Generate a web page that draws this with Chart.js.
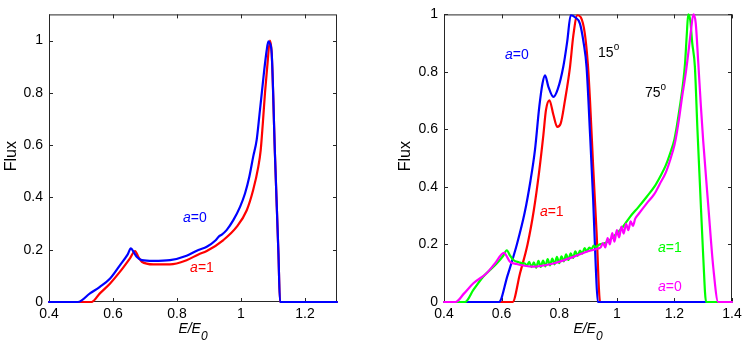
<!DOCTYPE html>
<html><head><meta charset="utf-8">
<script src="https://cdn.jsdelivr.net/npm/chart.js@4/dist/chart.umd.min.js"></script>
<style>
html,body{margin:0;padding:0;background:#fff;}
#wrap{position:relative;width:747px;height:350px;overflow:hidden;}
canvas{position:absolute;top:0;}
</style></head><body>
<div id="wrap">
<canvas id="c1" width="370" height="350" style="left:0px"></canvas>
<canvas id="c2" width="377" height="350" style="left:370px"></canvas>
</div>
<script>
// ---------- tick labels ----------
const leftXTicks = [0.4, 0.6, 0.8, 1.0, 1.2];
const leftYTicks = [0, 0.2, 0.4, 0.6, 0.8, 1.0];
const rightXTicks = [0.4, 0.6, 0.8, 1.0, 1.2, 1.4];
const rightYTicks = [0, 0.2, 0.4, 0.6, 0.8, 1.0];

// ---------- left panel: a=0 (blue), a=1 (red) ----------
const leftA0X = [0.4, 0.49, 0.528, 0.559, 0.591, 0.622, 0.645, 0.656, 0.665, 0.674, 0.69, 0.726, 0.778, 0.83, 0.867, 0.893, 0.92, 0.932, 0.94, 0.955, 0.976, 0.997, 1.0125, 1.026, 1.038, 1.049, 1.058, 1.065, 1.072, 1.08, 1.0855, 1.09, 1.096, 1.106, 1.117, 1.122, 1.3];
const leftA0Y = [0, 0, 0.033, 0.058, 0.09, 0.141, 0.18, 0.205, 0.19, 0.173, 0.16, 0.157, 0.16, 0.177, 0.199, 0.211, 0.235, 0.252, 0.258, 0.275, 0.313, 0.364, 0.415, 0.479, 0.555, 0.62, 0.72, 0.8, 0.88, 0.96, 0.997, 0.99, 0.95, 0.568, 0.186, 0, 0];
const leftA1X = [0.4, 0.533, 0.559, 0.591, 0.622, 0.653, 0.669, 0.679, 0.69, 0.726, 0.778, 0.83, 0.867, 0.893, 0.945, 0.987, 1.018, 1.038, 1.054, 1.0615, 1.068, 1.075, 1.082, 1.0906, 1.096, 1.106, 1.117, 1.122, 1.3];
const leftA1Y = [0, 0, 0.033, 0.071, 0.116, 0.167, 0.195, 0.173, 0.154, 0.144, 0.144, 0.16, 0.182, 0.195, 0.237, 0.288, 0.351, 0.428, 0.517, 0.58, 0.68, 0.8, 0.9, 1.0, 0.95, 0.568, 0.186, 0, 0];

// ---------- right panel: 15 deg a=0 (blue), a=1 (red) ----------
const r15A0X = [0.4, 0.591, 0.62, 0.653, 0.68, 0.70, 0.716, 0.731, 0.742, 0.751, 0.762, 0.78, 0.795, 0.814, 0.828, 0.84, 0.855, 0.872, 0.885, 0.895, 0.907, 0.918, 0.927, 0.934, 1.4];
const r15A0Y = [0, 0, 0.09, 0.2, 0.31, 0.42, 0.53, 0.68, 0.76, 0.788, 0.75, 0.713, 0.74, 0.817, 0.907, 0.997, 0.99, 0.968, 0.9, 0.817, 0.586, 0.354, 0.123, 0, 0];
const r15A1X = [0.4, 0.638, 0.664, 0.69, 0.712, 0.73, 0.745, 0.754, 0.766, 0.78, 0.793, 0.805, 0.82, 0.8375, 0.849, 0.863, 0.875, 0.889, 0.9, 0.907, 0.918, 0.93, 0.942, 1.4];
const r15A1Y = [0, 0, 0.1, 0.2, 0.32, 0.45, 0.58, 0.667, 0.701, 0.65, 0.609, 0.62, 0.701, 0.817, 0.926, 0.997, 0.99, 0.933, 0.82, 0.7, 0.47, 0.238, 0, 0];

// ---------- right panel: 75 deg a=1 (green), a=0 (magenta) ----------
const r75A1X = [0.4, 0.473, 0.502, 0.536, 0.583, 0.605, 0.618, 0.63, 0.641, 0.66, 0.675,
  0.68, 0.688, 0.696, 0.704, 0.712, 0.72, 0.728, 0.736, 0.744, 0.752, 0.76, 0.768, 0.776, 0.784, 0.792, 0.80, 0.808, 0.816, 0.824, 0.832, 0.84, 0.848, 0.856, 0.864, 0.872, 0.88, 0.888, 0.896, 0.904, 0.912, 0.92, 0.928, 0.936,
  0.96, 0.988, 1.02, 1.046, 1.075, 1.104, 1.13, 1.15, 1.17, 1.185, 1.2, 1.208, 1.219, 1.23, 1.237, 1.243, 1.248, 1.255, 1.262, 1.271, 1.28, 1.289, 1.30, 1.31, 1.4];
const r75A1Y = [0, 0, 0.042, 0.088, 0.134, 0.16, 0.18, 0.16, 0.146, 0.138, 0.134,
  0.134, 0.126, 0.140, 0.121, 0.138, 0.119, 0.143, 0.122, 0.144, 0.124, 0.149, 0.127, 0.151, 0.131, 0.157, 0.135, 0.159, 0.141, 0.166, 0.146, 0.169, 0.153, 0.176, 0.160, 0.179, 0.168, 0.187, 0.176, 0.189, 0.184, 0.196, 0.190, 0.198,
  0.205, 0.227, 0.26, 0.296, 0.33, 0.366, 0.40, 0.435, 0.475, 0.516, 0.565, 0.609, 0.68, 0.76, 0.83, 0.93, 1.0, 0.98, 0.9, 0.82, 0.6, 0.4, 0.16, 0, 0];
const r75A0X = [0.4, 0.44, 0.47, 0.502, 0.548, 0.577, 0.608, 0.629, 0.652, 0.68, 0.71, 0.74, 0.78, 0.81, 0.849, 0.895, 0.935,
  0.944, 0.952, 0.96, 0.968, 0.976, 0.984, 0.992, 1.0, 1.008, 1.016, 1.024, 1.032, 1.04, 1.048, 1.056, 1.064,
  1.075, 1.104, 1.13, 1.15, 1.17, 1.185, 1.2, 1.208, 1.218, 1.225, 1.24, 1.25, 1.257, 1.266, 1.274, 1.283, 1.292, 1.30, 1.318, 1.335, 1.352, 1.4];
const r75A0Y = [0, 0, 0.03, 0.065, 0.10, 0.134, 0.171, 0.14, 0.132, 0.126, 0.123, 0.126, 0.134, 0.143, 0.157, 0.175, 0.186,
  0.19, 0.205, 0.19, 0.222, 0.20, 0.24, 0.21, 0.25, 0.225, 0.262, 0.238, 0.272, 0.25, 0.28, 0.265, 0.29,
  0.305, 0.343, 0.375, 0.412, 0.45, 0.493, 0.545, 0.586, 0.65, 0.701, 0.8, 0.88, 0.94, 1.0, 0.97, 0.83, 0.68, 0.56, 0.33, 0.12, 0, 0];

const pts = (xs, ys) => xs.map((x, i) => ({x: x, y: ys[i]}));

const FONT = "'Liberation Sans', Arial, Helvetica, sans-serif";
const FRAME = '#262626';

const deco = {
  id: 'deco',
  beforeDatasetsDraw(chart, args, o) {
    const {ctx, chartArea: a, scales: {x, y}} = chart;
    ctx.save();
    ctx.strokeStyle = FRAME;
    ctx.lineWidth = 1;
    ctx.strokeRect(a.left + 0.5, a.top + 0.5, a.right - a.left - 1, a.bottom - a.top - 1);
    const tl = 4;
    ctx.beginPath();
    o.xTicks.forEach(v => {
      const px = Math.round(x.getPixelForValue(v)) + 0.5;
      ctx.moveTo(px, a.bottom); ctx.lineTo(px, a.bottom - tl);
      ctx.moveTo(px, a.top); ctx.lineTo(px, a.top + tl);
    });
    o.yTicks.forEach(v => {
      const py = Math.round(y.getPixelForValue(v)) + 0.5;
      ctx.moveTo(a.left, py); ctx.lineTo(a.left + tl, py);
      ctx.moveTo(a.right, py); ctx.lineTo(a.right - tl, py);
    });
    ctx.stroke();
    ctx.restore();
  },
  afterDraw(chart, args, o) {
    const {ctx, chartArea: a, scales: {x, y}} = chart;
    ctx.save();
    ctx.fillStyle = '#000';
    ctx.font = '16px ' + FONT;
    ctx.textAlign = 'center';
    ctx.textBaseline = 'middle';
    ctx.save();
    ctx.translate(o.yTitleX, (a.top + a.bottom) / 2 - 2);
    ctx.rotate(-Math.PI / 2);
    ctx.fillText('Flux', 0, 0);
    ctx.restore();
    ctx.textAlign = 'left';
    ctx.font = 'italic 14px ' + FONT;
    const main = 'E/E';
    const wMain = ctx.measureText(main).width;
    ctx.font = 'italic 12px ' + FONT;
    const wSub = ctx.measureText('0').width;
    const cx = (a.left + a.right) / 2;
    const x0 = cx - (wMain + wSub) / 2;
    ctx.font = 'italic 14px ' + FONT;
    ctx.fillText(main, x0, 329);
    ctx.font = 'italic 12px ' + FONT;
    ctx.fillText('0', x0 + wMain, 337);
    o.notes.forEach(n => {
      let px = x.getPixelForValue(n.x);
      const py = y.getPixelForValue(n.y);
      ctx.fillStyle = n.color;
      n.parts.forEach(p => {
        ctx.font = (p.italic ? 'italic ' : '') + (p.size || 14) + 'px ' + FONT;
        ctx.fillText(p.t, px, py + (p.dy || 0));
        px += ctx.measureText(p.t).width + (p.gap || 0);
      });
    });
    ctx.restore();
  }
};

function makeChart(id, cfg) {
  return new Chart(document.getElementById(id), {
    type: 'line',
    data: { datasets: cfg.datasets },
    options: {
      responsive: false,
      animation: false,
      devicePixelRatio: 1,
      layout: { padding: { top: 14, right: cfg.rightPad, left: 0, bottom: 0 } },
      elements: { point: { radius: 0 }, line: { borderWidth: 2.2, cubicInterpolationMode: 'monotone', borderJoinStyle: 'round', borderCapStyle: 'round' } },
      plugins: {
        legend: { display: false },
        tooltip: { enabled: false },
        deco: { xTicks: cfg.xTicks, yTicks: cfg.yTicks, yTitleX: cfg.yTitleX, notes: cfg.notes }
      },
      scales: {
        x: {
          type: 'linear', min: cfg.xMin, max: cfg.xMax,
          grid: { display: false, drawTicks: false }, border: { display: false },
          afterBuildTicks: s => { s.ticks = cfg.xTicks.map(v => ({value: v})); },
          afterFit: s => { s.height = 48; },
          ticks: { color: '#000', padding: 4, maxRotation: 0, autoSkip: false, font: { family: FONT, size: 14 },
                   callback: v => String(Number(v.toFixed(1))) }
        },
        y: {
          type: 'linear', min: cfg.yMin, max: cfg.yMax,
          grid: { display: false, drawTicks: false }, border: { display: false },
          afterBuildTicks: s => { s.ticks = cfg.yTicks.map(v => ({value: v})); },
          afterFit: s => { s.width = cfg.yAxisWidth; },
          ticks: { color: '#000', padding: 6, autoSkip: false, font: { family: FONT, size: 14 },
                   callback: v => String(Number(v.toFixed(1))) }
        }
      }
    },
    plugins: [deco]
  });
}

const ds = (data, color, order) => ({ data: data, borderColor: color, backgroundColor: color, order: order, clip: 3, fill: false });

makeChart('c1', {
  xMin: 0.4, xMax: 1.3, yMin: 0, yMax: 1.1,
  xTicks: leftXTicks, yTicks: leftYTicks,
  yAxisWidth: 49, rightPad: 33, yTitleX: 12,
  datasets: [ ds(pts(leftA0X, leftA0Y), '#0000ff', 0), ds(pts(leftA1X, leftA1Y), '#ff0000', 1) ],
  notes: [
    { x: 0.819, y: 0.321, color: '#0000ff', parts: [{t: 'a', italic: true}, {t: '=0'}] },
    { x: 0.841, y: 0.13, color: '#ff0000', parts: [{t: 'a', italic: true}, {t: '=1'}] }
  ]
});

makeChart('c2', {
  xMin: 0.4, xMax: 1.4, yMin: 0, yMax: 1.0,
  xTicks: rightXTicks, yTicks: rightYTicks,
  yAxisWidth: 74, rightPad: 15, yTitleX: 36,
  datasets: [
    ds(pts(r75A0X, r75A0Y), '#ff00ff', 0),
    ds(pts(r75A1X, r75A1Y), '#00ff00', 1),
    ds(pts(r15A0X, r15A0Y), '#0000ff', 2),
    ds(pts(r15A1X, r15A1Y), '#ff0000', 3)
  ],
  notes: [
    { x: 0.612, y: 0.858, color: '#0000ff', parts: [{t: 'a', italic: true}, {t: '=0'}] },
    { x: 0.935, y: 0.865, color: '#000', parts: [{t: '15'}, {t: 'o', size: 10, dy: -6}] },
    { x: 1.098, y: 0.726, color: '#000', parts: [{t: '75'}, {t: 'o', size: 10, dy: -6}] },
    { x: 0.733, y: 0.3125, color: '#ff0000', parts: [{t: 'a', italic: true}, {t: '=1'}] },
    { x: 1.143, y: 0.1875, color: '#00ff00', parts: [{t: 'a', italic: true}, {t: '=1'}] },
    { x: 1.143, y: 0.052, color: '#ff00ff', parts: [{t: 'a', italic: true}, {t: '=0'}] }
  ]
});
</script>
</body></html>
